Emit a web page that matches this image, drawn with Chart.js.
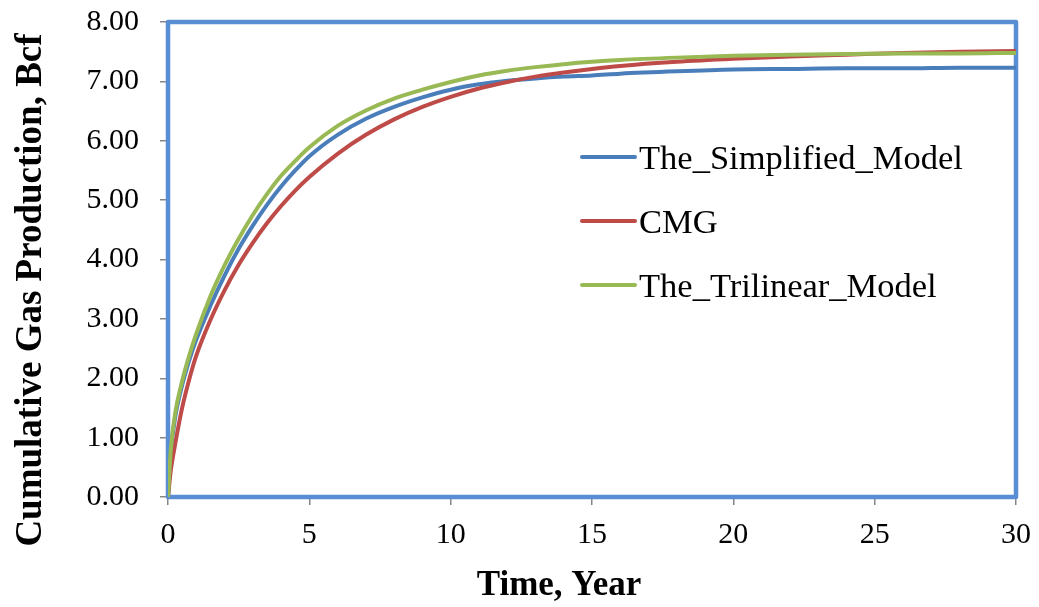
<!DOCTYPE html>
<html>
<head>
<meta charset="utf-8">
<title>Cumulative Gas Production</title>
<script src="https://cdn.jsdelivr.net/npm/chart.js@4.4.0/dist/chart.umd.min.js"></script>
<style>
  html, body { margin: 0; padding: 0; background: #ffffff; }
  #wrap { width: 1039px; height: 607px; position: relative; }
</style>
</head>
<body>
<div id="wrap"><canvas id="chart" width="1039" height="607"></canvas></div>
<script>
// Time in years
const years = [0, 0.1, 0.25, 0.5, 0.75, 1, 1.5, 2, 2.5, 3, 3.5, 4, 4.5, 5, 6, 7, 8, 9, 10, 11, 12, 13, 14, 15, 16, 18, 20, 22, 24, 26, 28, 30];

// Cumulative gas production, Bcf
const simplifiedModel = [0, 0.75, 1.33, 1.88, 2.30, 2.65, 3.22, 3.73, 4.18, 4.57, 4.92, 5.23, 5.50, 5.74, 6.10, 6.37, 6.57, 6.73, 6.86, 6.95, 7.01, 7.05, 7.08, 7.10, 7.13, 7.17, 7.20, 7.21, 7.22, 7.22, 7.23, 7.23];
const cmg = [0, 0.45, 0.88, 1.50, 1.98, 2.38, 2.98, 3.48, 3.91, 4.28, 4.61, 4.90, 5.16, 5.39, 5.78, 6.10, 6.36, 6.57, 6.74, 6.88, 6.99, 7.08, 7.15, 7.21, 7.26, 7.33, 7.38, 7.42, 7.45, 7.48, 7.50, 7.51];
const trilinearModel = [0, 0.80, 1.40, 1.95, 2.38, 2.75, 3.38, 3.90, 4.35, 4.75, 5.10, 5.41, 5.66, 5.89, 6.25, 6.51, 6.71, 6.86, 6.99, 7.10, 7.18, 7.24, 7.29, 7.33, 7.36, 7.40, 7.43, 7.45, 7.46, 7.47, 7.47, 7.48];

const seriesNames = ['The_Simplified_Model', 'CMG', 'The_Trilinear_Model'];
const xTitle = 'Time, Year';
const yTitle = 'Cumulative Gas Production, Bcf';

const SERIF = '"Liberation Serif", "Times New Roman", serif';

function toPoints(xs, ys) {
  return xs.map((x, i) => ({ x: x, y: ys[i] }));
}

function lineDataset(label, values, color, order) {
  return {
    label: label,
    data: toPoints(years, values),
    borderColor: color,
    backgroundColor: color,
    borderWidth: 4,
    borderCapStyle: 'round',
    borderJoinStyle: 'round',
    pointRadius: 0,
    pointHoverRadius: 0,
    cubicInterpolationMode: 'monotone',
    fill: false,
    order: order
  };
}

// Keep the plotting area fixed: axis label overflow does not add extra room
function noOverflow(scale) {
  scale.paddingTop = 0;
  scale.paddingBottom = 0;
  scale.paddingLeft = 0;
  scale.paddingRight = 0;
}

// Blue frame around the plotting area
const plotFrame = {
  id: 'plotFrame',
  beforeDatasetsDraw(chart) {
    const a = chart.chartArea;
    const ctx = chart.ctx;
    ctx.save();
    ctx.strokeStyle = '#5A8ED4';
    ctx.lineWidth = 4.5;
    ctx.lineJoin = 'round';
    ctx.strokeRect(a.left, a.top, a.right - a.left, a.bottom - a.top);
    ctx.restore();
  }
};

// Legend drawn inside the plotting area
const insideLegend = {
  id: 'insideLegend',
  afterDraw(chart, args, opts) {
    const ctx = chart.ctx;
    ctx.save();
    ctx.font = opts.fontSize + 'px ' + SERIF;
    ctx.textAlign = 'left';
    ctx.textBaseline = 'alphabetic';
    chart.data.datasets.forEach((ds, i) => {
      const y = opts.top + i * opts.rowGap;
      ctx.strokeStyle = ds.borderColor;
      ctx.lineWidth = 4;
      ctx.lineCap = 'round';
      ctx.beginPath();
      ctx.moveTo(opts.x0, y);
      ctx.lineTo(opts.x1, y);
      ctx.stroke();
      ctx.fillStyle = '#000000';
      ctx.fillText(ds.label, opts.textX, y + opts.baselineShift);
    });
    ctx.restore();
  }
};

// Axis titles
const axisTitles = {
  id: 'axisTitles',
  afterDraw(chart, args, opts) {
    const ctx = chart.ctx;
    ctx.save();
    ctx.fillStyle = '#000000';
    ctx.textAlign = 'center';
    ctx.textBaseline = 'alphabetic';
    ctx.font = 'bold ' + opts.xSize + 'px ' + SERIF;
    ctx.fillText(opts.xText, opts.xCenter, opts.xBaseline);
    ctx.translate(opts.yBaseline, opts.yCenter);
    ctx.rotate(-Math.PI / 2);
    ctx.font = 'bold ' + opts.ySize + 'px ' + SERIF;
    ctx.fillText(opts.yText, 0, 0);
    ctx.restore();
  }
};

const tickFont = { family: SERIF, size: 30 };

new Chart(document.getElementById('chart'), {
  type: 'line',
  data: {
    datasets: [
      lineDataset(seriesNames[0], simplifiedModel, '#4A7EBB', 3),
      lineDataset(seriesNames[1], cmg, '#BE4B48', 2),
      lineDataset(seriesNames[2], trilinearModel, '#98B954', 1)
    ]
  },
  options: {
    responsive: false,
    animation: false,
    events: [],
    layout: { padding: { left: 0, right: 23, top: 22, bottom: 0 } },
    plugins: {
      legend: { display: false },
      tooltip: { enabled: false },
      insideLegend: { x0: 582, x1: 635, textX: 639, top: 157, rowGap: 64, baselineShift: 12, fontSize: 34.5 },
      axisTitles: {
        xText: xTitle, xSize: 35, xCenter: 559, xBaseline: 595,
        yText: yTitle, ySize: 37, yCenter: 290, yBaseline: 41
      }
    },
    scales: {
      x: {
        type: 'linear',
        min: 0,
        max: 30,
        afterFit(scale) { scale.height = 110; noOverflow(scale); },
        ticks: { stepSize: 5, font: tickFont, color: '#000000', padding: 12, maxRotation: 0 },
        grid: { drawOnChartArea: false, drawTicks: true, tickLength: 8, color: '#868686', lineWidth: 1.5 },
        border: { display: false }
      },
      y: {
        type: 'linear',
        min: 0,
        max: 8,
        afterFit(scale) { scale.width = 168; noOverflow(scale); },
        ticks: { stepSize: 1, font: tickFont, color: '#000000', padding: 21, callback: v => v.toFixed(2) },
        grid: { drawOnChartArea: false, drawTicks: true, tickLength: 8, color: '#868686', lineWidth: 1.5 },
        border: { display: false }
      }
    }
  },
  plugins: [plotFrame, insideLegend, axisTitles]
});
</script>
</body>
</html>
